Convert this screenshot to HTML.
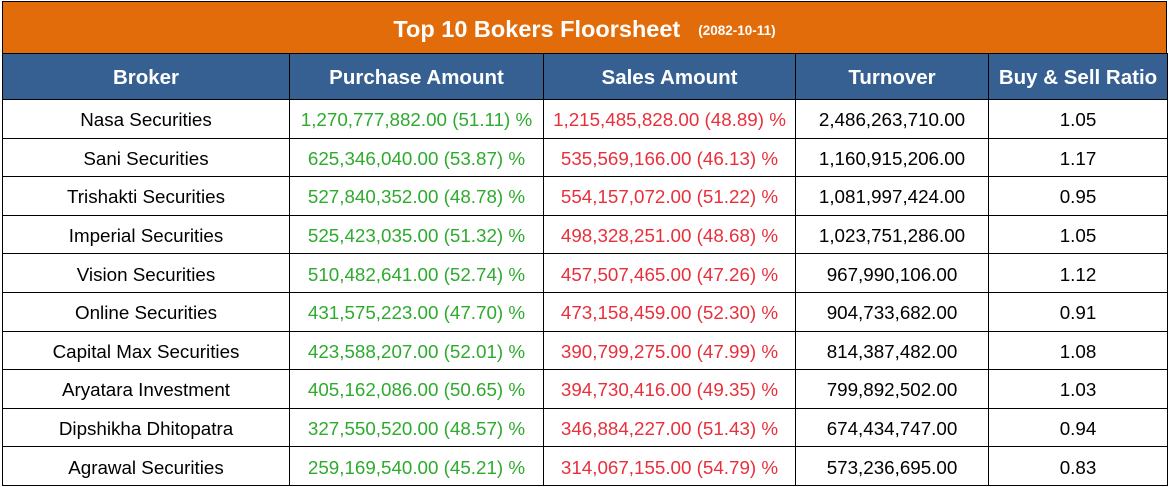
<!DOCTYPE html><html><head><style>
body{margin:0;width:1169px;height:487px;background:#fff;position:relative;overflow:hidden;font-family:"Liberation Sans",Arial,sans-serif}
.t{position:absolute;left:2px;top:1px;width:1163px;height:51px;background:#e36c0a;border:1px solid #000;color:#fff;font-weight:bold;font-size:23.5px;text-align:center;line-height:54px}
.t small{font-size:13.5px;margin-left:18px;vertical-align:2px}
table{position:absolute;left:2px;top:53px;width:1165px;border-collapse:collapse;table-layout:fixed}
td,th{border:1.5px solid #000;text-align:center;padding:0;white-space:nowrap;line-height:20px}
th{background:#366092;color:#fff;font-size:20.5px;font-weight:bold;padding-top:2px}
tr.h{height:46px}
tr{height:38.6px}
td{font-size:18.8px;color:#000;padding-top:3px}
.g{color:#2eab2e}.r{color:#e8303c}
</style></head><body>
<div class="t">Top 10 Bokers Floorsheet<small>(2082-10-11)</small></div>
<table>
<colgroup><col style="width:287px"><col style="width:254px"><col style="width:252px"><col style="width:193px"><col style="width:179px"></colgroup>
<tr class="h"><th>Broker</th><th>Purchase Amount</th><th>Sales Amount</th><th>Turnover</th><th>Buy &amp; Sell Ratio</th></tr>
<tr><td>Nasa Securities</td><td class="g">1,270,777,882.00 (51.11) %</td><td class="r">1,215,485,828.00 (48.89) %</td><td>2,486,263,710.00</td><td>1.05</td></tr>
<tr><td>Sani Securities</td><td class="g">625,346,040.00 (53.87) %</td><td class="r">535,569,166.00 (46.13) %</td><td>1,160,915,206.00</td><td>1.17</td></tr>
<tr><td>Trishakti Securities</td><td class="g">527,840,352.00 (48.78) %</td><td class="r">554,157,072.00 (51.22) %</td><td>1,081,997,424.00</td><td>0.95</td></tr>
<tr><td>Imperial Securities</td><td class="g">525,423,035.00 (51.32) %</td><td class="r">498,328,251.00 (48.68) %</td><td>1,023,751,286.00</td><td>1.05</td></tr>
<tr><td>Vision Securities</td><td class="g">510,482,641.00 (52.74) %</td><td class="r">457,507,465.00 (47.26) %</td><td>967,990,106.00</td><td>1.12</td></tr>
<tr><td>Online Securities</td><td class="g">431,575,223.00 (47.70) %</td><td class="r">473,158,459.00 (52.30) %</td><td>904,733,682.00</td><td>0.91</td></tr>
<tr><td>Capital Max Securities</td><td class="g">423,588,207.00 (52.01) %</td><td class="r">390,799,275.00 (47.99) %</td><td>814,387,482.00</td><td>1.08</td></tr>
<tr><td>Aryatara Investment</td><td class="g">405,162,086.00 (50.65) %</td><td class="r">394,730,416.00 (49.35) %</td><td>799,892,502.00</td><td>1.03</td></tr>
<tr><td>Dipshikha Dhitopatra</td><td class="g">327,550,520.00 (48.57) %</td><td class="r">346,884,227.00 (51.43) %</td><td>674,434,747.00</td><td>0.94</td></tr>
<tr><td>Agrawal Securities</td><td class="g">259,169,540.00 (45.21) %</td><td class="r">314,067,155.00 (54.79) %</td><td>573,236,695.00</td><td>0.83</td></tr>
</table>
</body></html>
